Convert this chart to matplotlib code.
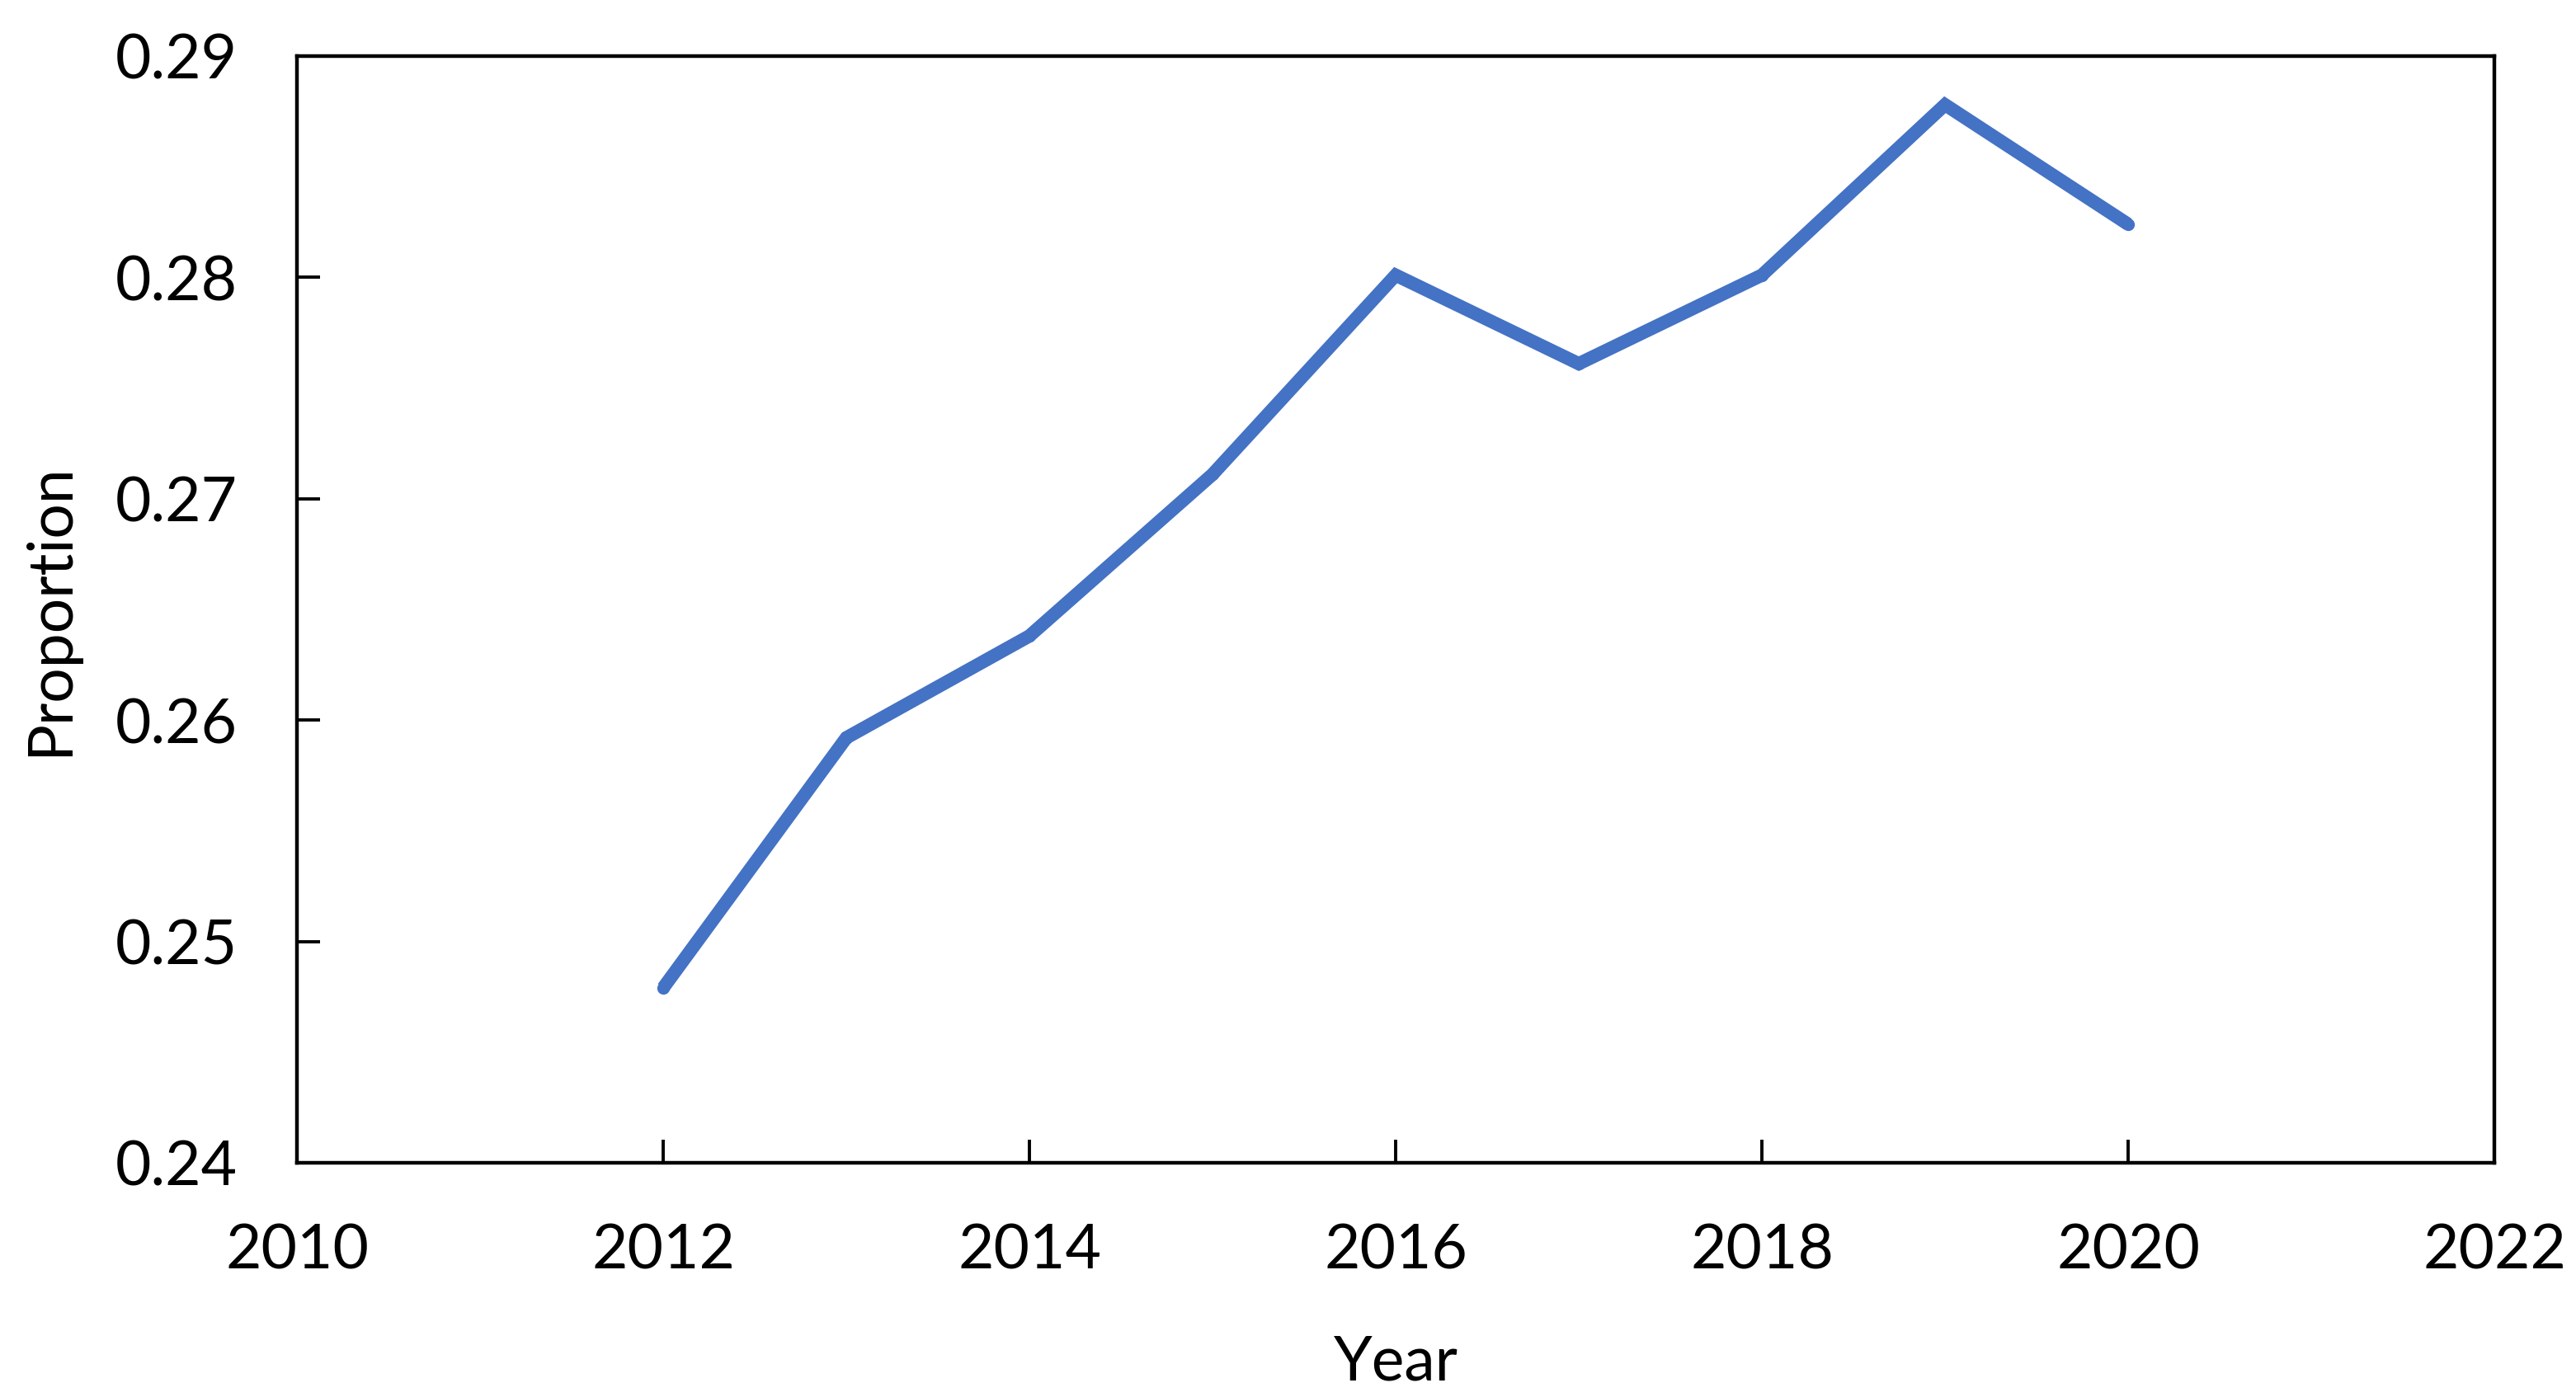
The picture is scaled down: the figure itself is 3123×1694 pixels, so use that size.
import matplotlib
matplotlib.use("Agg")
import matplotlib.pyplot as plt

years = [2012, 2013, 2014, 2015, 2016, 2017, 2018, 2019, 2020]
proportion = [0.2479, 0.2592, 0.2638, 0.2711, 0.2801, 0.2761, 0.2801, 0.2878, 0.2824]
x_ticks = [2010, 2012, 2014, 2016, 2018, 2020, 2022]
y_ticks = [0.24, 0.25, 0.26, 0.27, 0.28, 0.29]

plt.rcParams['font.family'] = ['Lato', 'DejaVu Sans']

fig = plt.figure(figsize=(15.615, 8.47), dpi=200)
ax = fig.add_axes([0.1153, 0.1677, 0.8530, 0.7922])

ax.plot(years, proportion, color='#4472C4', linewidth=5.8, marker='o',
        markersize=4.5, solid_joinstyle='miter', solid_capstyle='butt')

ax.set_xlim(2010, 2022)
ax.set_ylim(0.24, 0.29)
ax.set_xticks(x_ticks)
ax.set_yticks(y_ticks)
ax.set_yticklabels([f"{v:.2f}" for v in y_ticks])
ax.set_xticklabels([str(v) for v in x_ticks])

for s in ax.spines.values():
    s.set_linewidth(1.6)
    s.set_color('black')

ax.tick_params(axis='both', direction='in', length=10, width=1.4,
               labelsize=27, pad=26, colors='black')

ax.set_xlabel('Year', fontsize=27, labelpad=24)
ax.set_ylabel('Proportion', fontsize=27, labelpad=16)

fig.savefig('out.png', dpi=200)
